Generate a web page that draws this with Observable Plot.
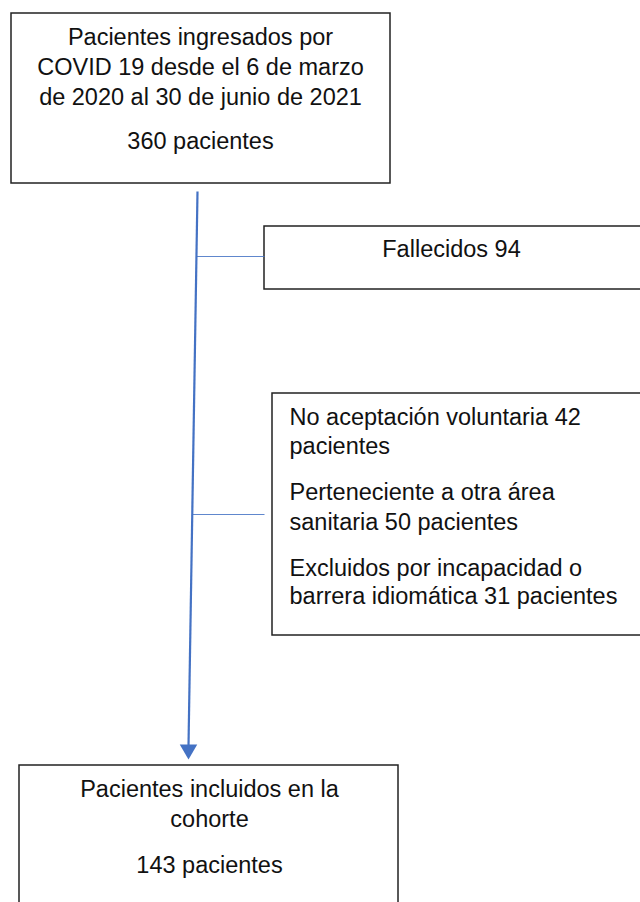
<!DOCTYPE html>
<html>
<head>
<meta charset="utf-8">
<script src="https://cdn.jsdelivr.net/npm/d3@7"></script>
<script src="https://cdn.jsdelivr.net/npm/@observablehq/plot@0.6"></script>
<style>
  html, body { margin: 0; padding: 0; background: #fff; }
  #chart svg { display: block; }
</style>
</head>
<body>
<div id="chart"></div>
<script>
// Box content
const boxIds = ["ingresados", "fallecidos", "excluidos", "incluidos"];
const boxLines = [
  ["Pacientes ingresados por", "COVID 19 desde el 6 de marzo", "de 2020 al 30 de junio de 2021", "360 pacientes"],
  ["Fallecidos 94"],
  ["No aceptación voluntaria 42", "pacientes", "Perteneciente a otra área", "sanitaria 50 pacientes", "Excluidos por incapacidad o", "barrera idiomática 31 pacientes"],
  ["Pacientes incluidos en la", "cohorte", "143 pacientes"]
];

// Layout (pixel coordinates in the diagram space)
const boxX1 = [11, 264, 272, 19];
const boxX2 = [390, 648, 648, 398];
const boxY1 = [13, 226, 393, 765];
const boxY2 = [183, 289, 635, 912];
const textX = [200, 451, 289, 209];
const textAnchor = ["middle", "middle", "start", "middle"];
const lineY = [
  [37, 67, 97, 141],
  [249],
  [417, 446, 492, 522, 568, 596],
  [789, 819, 865]
];

// Flow lines
const mainX1 = 197, mainY1 = 191, mainX2 = 188, mainY2 = 745;
const branchY = [256, 514];
const branchX2 = [264, 264];

const boxes = boxIds.map((id, i) => ({id, x1: boxX1[i], x2: boxX2[i], y1: boxY1[i], y2: boxY2[i]}));
const texts = boxIds.flatMap((id, i) => boxLines[i].map((t, j) => ({
  text: t, x: textX[i], y: lineY[i][j], anchor: textAnchor[i]
})));
const mainLine = [{x1: mainX1, y1: mainY1, x2: mainX2, y2: mainY2}];
const branches = branchY.map((y, i) => {
  const t = (y - mainY1) / (mainY2 - mainY1);
  return {x1: mainX1 + t * (mainX2 - mainX1), x2: branchX2[i], y};
});

const font = "'Liberation Sans', Arial, Helvetica, sans-serif";
const blue = "#4472C4";

const chart = Plot.plot({
  width: 640,
  height: 902,
  margin: 0,
  x: {domain: [0, 640], axis: null},
  y: {domain: [0, 902], axis: null, range: [0, 902]},
  style: {background: "#fff", fontFamily: font},
  marks: [
    Plot.rect(boxes, {x1: "x1", x2: "x2", y1: "y1", y2: "y2", fill: "#fff", stroke: "#222", strokeWidth: 1.5}),
    Plot.link(mainLine, {x1: "x1", y1: "y1", x2: "x2", y2: "y2", stroke: blue, strokeWidth: 2.2}),
    Plot.link(branches, {x1: "x1", x2: "x2", y1: "y", y2: "y", stroke: blue, strokeWidth: 1.2, strokeOpacity: 0.85}),
    Plot.dot(mainLine, {x: "x2", y: d => d.y2 + 4, symbol: "triangle", r: 6.5, rotate: 180, fill: blue, stroke: "none"}),
    Plot.text(texts.filter(d => d.anchor === "middle"), {x: "x", y: "y", text: "text", textAnchor: "middle", fontSize: 23.5, fill: "#111", fontFamily: font}),
    Plot.text(texts.filter(d => d.anchor === "start"), {x: "x", y: "y", text: "text", textAnchor: "start", fontSize: 23.5, fill: "#111", fontFamily: font})
  ]
});
document.getElementById("chart").appendChild(chart);
</script>
</body>
</html>
